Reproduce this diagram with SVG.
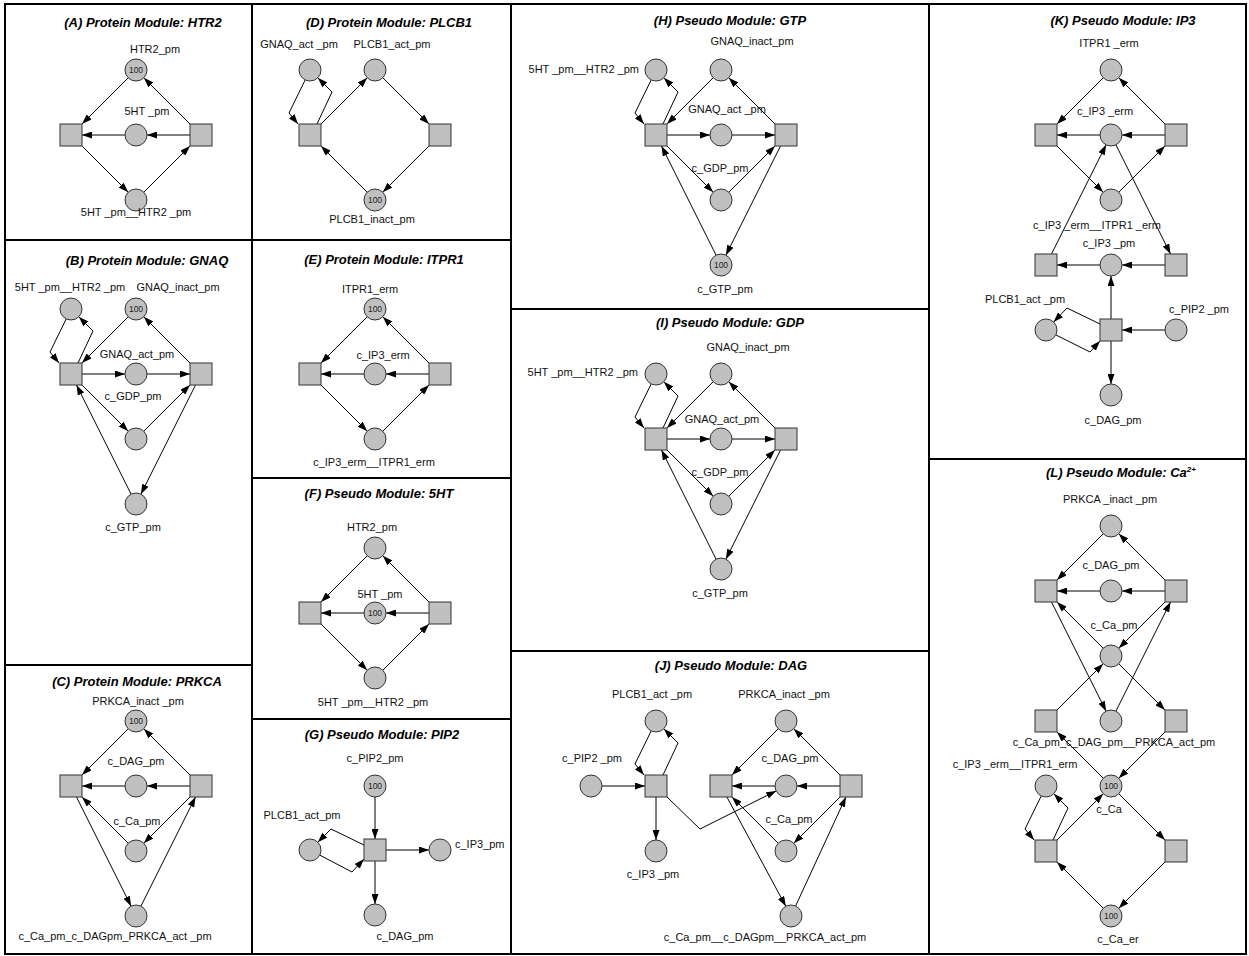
<svg xmlns="http://www.w3.org/2000/svg" width="1249" height="956" viewBox="0 0 1249 956">
<defs>
<marker id="arr" viewBox="0 0 10 7" refX="10" refY="3.5" markerWidth="10" markerHeight="7" markerUnits="userSpaceOnUse" orient="auto"><path d="M0,0 L10,3.5 L0,7 z" fill="#000"/></marker>
<style>
.e{fill:none;stroke:#000;stroke-width:1;marker-end:url(#arr)}
.p{fill:#c0c0c0;stroke:#333;stroke-width:1}
.lb{font-family:"Liberation Sans",Arial,sans-serif;font-size:11px;text-anchor:middle;fill:#111}
.ls{font-family:"Liberation Sans",Arial,sans-serif;font-size:11px;text-anchor:start;fill:#111}
.le{font-family:"Liberation Sans",Arial,sans-serif;font-size:11px;text-anchor:end;fill:#111}
.ttl{font-family:"Liberation Sans",Arial,sans-serif;font-size:13px;font-weight:bold;font-style:italic;text-anchor:middle;fill:#000}
.tok{font-family:"Liberation Sans",Arial,sans-serif;font-size:8.5px;text-anchor:middle;fill:#222}
.fr{fill:none;stroke:#000;stroke-width:2}
</style>
</defs>
<rect width="1249" height="956" fill="#fff"/>
<g id="frames">
<rect class="fr" x="5" y="4" width="1241" height="950"/>
<path class="fr" d="M252,4 V954 M511,4 V954 M929,4 V954 M5,240 H511 M5,665 H252 M252,478 H511 M252,719 H511 M511,309 H929 M511,651 H929 M929,459 H1246"/>
</g>
<g id="titles">
<text class="ttl" x="143" y="27">(A) Protein Module: HTR2</text>
<text class="ttl" x="147" y="265">(B) Protein Module: GNAQ</text>
<text class="ttl" x="137" y="686">(C) Protein Module: PRKCA</text>
<text class="ttl" x="389" y="27">(D) Protein Module: PLCB1</text>
<text class="ttl" x="384" y="264">(E) Protein Module: ITPR1</text>
<text class="ttl" x="379" y="498">(F) Pseudo Module: 5HT</text>
<text class="ttl" x="382" y="739">(G) Pseudo Module: PIP2</text>
<text class="ttl" x="730" y="25">(H) Pseudo Module: GTP</text>
<text class="ttl" x="730" y="327">(I) Pseudo Module: GDP</text>
<text class="ttl" x="731" y="670">(J) Pseudo Module: DAG</text>
<text class="ttl" x="1123" y="25">(K) Pseudo Module: IP3</text>
<text class="ttl" x="1121" y="477">(L) Pseudo Module: Ca<tspan dy="-5" font-size="8">2+</tspan></text>
</g>

<!-- Panel A -->
<g id="panelA" transform="translate(71,135)">
<g id="A-connectors">
<path class="e" d="M57.2,-57.2 L11,-11"/><path class="e" d="M119,-11 L72.8,-57.2"/><path class="e" d="M119,0 L76,0"/><path class="e" d="M54,0 L11,0"/><path class="e" d="M11,11 L57.2,57.2"/><path class="e" d="M72.8,57.2 L119,11"/>
</g>
<g id="A-HTR2_pm"><circle class="p" cx="65" cy="-65" r="11"/><text class="tok" x="65" y="-62">100</text><text class="lb" x="84" y="-82">HTR2_pm</text></g>
<g id="A-5HT_pm"><circle class="p" cx="65" cy="0" r="11"/><text class="lb" x="76" y="-20">5HT _pm</text></g>
<g id="A-complex"><circle class="p" cx="65" cy="65" r="11"/><text class="lb" x="65" y="81">5HT _pm__HTR2 _pm</text></g>
<g id="A-t1"><rect class="p" x="-11" y="-11" width="22" height="22"/></g>
<g id="A-t2"><rect class="p" x="119" y="-11" width="22" height="22"/></g>
</g>

<!-- Panel E -->
<g id="panelE" transform="translate(310,374)">
<g id="E-connectors">
<path class="e" d="M57.2,-57.2 L11,-11"/><path class="e" d="M119,-11 L72.8,-57.2"/><path class="e" d="M119,0 L76,0"/><path class="e" d="M54,0 L11,0"/><path class="e" d="M11,11 L57.2,57.2"/><path class="e" d="M72.8,57.2 L119,11"/>
</g>
<g id="E-ITPR1_erm"><circle class="p" cx="65" cy="-65" r="11"/><text class="tok" x="65" y="-62">100</text><text class="lb" x="60" y="-81">ITPR1_erm</text></g>
<g id="E-c_IP3_erm"><circle class="p" cx="65" cy="0" r="11"/><text class="lb" x="73" y="-15">c_IP3_erm</text></g>
<g id="E-complex"><circle class="p" cx="65" cy="65" r="11"/><text class="lb" x="64" y="92">c_IP3_erm__ITPR1_erm</text></g>
<g id="E-t1"><rect class="p" x="-11" y="-11" width="22" height="22"/></g>
<g id="E-t2"><rect class="p" x="119" y="-11" width="22" height="22"/></g>
</g>

<!-- Panel F -->
<g id="panelF" transform="translate(310,613)">
<g id="F-connectors">
<path class="e" d="M57.2,-57.2 L11,-11"/><path class="e" d="M119,-11 L72.8,-57.2"/><path class="e" d="M119,0 L76,0"/><path class="e" d="M54,0 L11,0"/><path class="e" d="M11,11 L57.2,57.2"/><path class="e" d="M72.8,57.2 L119,11"/>
</g>
<g id="F-HTR2_pm"><circle class="p" cx="65" cy="-65" r="11"/><text class="lb" x="62" y="-82">HTR2_pm</text></g>
<g id="F-5HT_pm"><circle class="p" cx="65" cy="0" r="11"/><text class="tok" x="65" y="3">100</text><text class="lb" x="70" y="-15">5HT _pm</text></g>
<g id="F-complex"><circle class="p" cx="65" cy="65" r="11"/><text class="lb" x="63" y="93">5HT _pm__HTR2 _pm</text></g>
<g id="F-t1"><rect class="p" x="-11" y="-11" width="22" height="22"/></g>
<g id="F-t2"><rect class="p" x="119" y="-11" width="22" height="22"/></g>
</g>

<!-- Panel B -->
<g id="panelB" transform="translate(71,374)">
<g id="B-connectors">
<path class="e" d="M-4.8,-55.1 L-21,-22 L-12,-11"/><path class="e" d="M7,-11 L22,-43 L7.8,-57.2"/>
<path class="e" d="M57.2,-57.2 L11,-11"/><path class="e" d="M119,-11 L72.8,-57.2"/>
<path class="e" d="M11,0 L54,0"/><path class="e" d="M76,0 L119,0"/>
<path class="e" d="M11,11 L57.2,57.2"/><path class="e" d="M72.8,57.2 L119,11"/>
<path class="e" d="M124.5,11 L69.9,120.2"/><path class="e" d="M60.1,120.2 L5.5,11"/>
</g>
<g id="B-5HT_HTR2"><circle class="p" cx="0" cy="-65" r="11"/><text class="lb" x="-1" y="-83">5HT _pm__HTR2 _pm</text></g>
<g id="B-GNAQ_inact"><circle class="p" cx="65" cy="-65" r="11"/><text class="tok" x="65" y="-62">100</text><text class="lb" x="107" y="-83">GNAQ_inact_pm</text></g>
<g id="B-GNAQ_act"><circle class="p" cx="65" cy="0" r="11"/><text class="lb" x="66" y="-16">GNAQ_act_pm</text></g>
<g id="B-GDP"><circle class="p" cx="65" cy="65" r="11"/><text class="lb" x="62" y="26">c_GDP_pm</text></g>
<g id="B-GTP"><circle class="p" cx="65" cy="130" r="11"/><text class="lb" x="62" y="157">c_GTP_pm</text></g>
<g id="B-t1"><rect class="p" x="-11" y="-11" width="22" height="22"/></g>
<g id="B-t2"><rect class="p" x="119" y="-11" width="22" height="22"/></g>
</g>

<!-- Panel H -->
<g id="panelH" transform="translate(656,135)">
<g id="H-connectors">
<path class="e" d="M-4.8,-55.1 L-21,-22 L-12,-11"/><path class="e" d="M7,-11 L22,-43 L7.8,-57.2"/>
<path class="e" d="M57.2,-57.2 L11,-11"/><path class="e" d="M119,-11 L72.8,-57.2"/>
<path class="e" d="M11,0 L54,0"/><path class="e" d="M76,0 L119,0"/>
<path class="e" d="M11,11 L57.2,57.2"/><path class="e" d="M72.8,57.2 L119,11"/>
<path class="e" d="M124.5,11 L69.9,120.2"/><path class="e" d="M60.1,120.2 L5.5,11"/>
</g>
<g id="H-5HT_HTR2"><circle class="p" cx="0" cy="-65" r="11"/><text class="le" x="-17" y="-62">5HT _pm__HTR2 _pm</text></g>
<g id="H-GNAQ_inact"><circle class="p" cx="65" cy="-65" r="11"/><text class="lb" x="96" y="-90">GNAQ_inact_pm</text></g>
<g id="H-GNAQ_act"><circle class="p" cx="65" cy="0" r="11"/><text class="lb" x="71" y="-22">GNAQ_act _pm</text></g>
<g id="H-GDP"><circle class="p" cx="65" cy="65" r="11"/><text class="lb" x="64" y="37">c_GDP_pm</text></g>
<g id="H-GTP"><circle class="p" cx="65" cy="130" r="11"/><text class="tok" x="65" y="133">100</text><text class="lb" x="69" y="158">c_GTP_pm</text></g>
<g id="H-t1"><rect class="p" x="-11" y="-11" width="22" height="22"/></g>
<g id="H-t2"><rect class="p" x="119" y="-11" width="22" height="22"/></g>
</g>

<!-- Panel I -->
<g id="panelI" transform="translate(656,439)">
<g id="I-connectors">
<path class="e" d="M-4.8,-55.1 L-21,-22 L-12,-11"/><path class="e" d="M7,-11 L22,-43 L7.8,-57.2"/>
<path class="e" d="M57.2,-57.2 L11,-11"/><path class="e" d="M119,-11 L72.8,-57.2"/>
<path class="e" d="M11,0 L54,0"/><path class="e" d="M76,0 L119,0"/>
<path class="e" d="M11,11 L57.2,57.2"/><path class="e" d="M72.8,57.2 L119,11"/>
<path class="e" d="M124.5,11 L69.9,120.2"/><path class="e" d="M60.1,120.2 L5.5,11"/>
</g>
<g id="I-5HT_HTR2"><circle class="p" cx="0" cy="-65" r="11"/><text class="le" x="-18" y="-63">5HT _pm__HTR2 _pm</text></g>
<g id="I-GNAQ_inact"><circle class="p" cx="65" cy="-65" r="11"/><text class="lb" x="92" y="-88">GNAQ_inact_pm</text></g>
<g id="I-GNAQ_act"><circle class="p" cx="65" cy="0" r="11"/><text class="lb" x="66" y="-16">GNAQ_act_pm</text></g>
<g id="I-GDP"><circle class="p" cx="65" cy="65" r="11"/><text class="lb" x="64" y="37">c_GDP_pm</text></g>
<g id="I-GTP"><circle class="p" cx="65" cy="130" r="11"/><text class="lb" x="64" y="158">c_GTP_pm</text></g>
<g id="I-t1"><rect class="p" x="-11" y="-11" width="22" height="22"/></g>
<g id="I-t2"><rect class="p" x="119" y="-11" width="22" height="22"/></g>
</g>

<!-- Panel C -->
<g id="panelC" transform="translate(71,786)">
<g id="C-connectors">
<path class="e" d="M57.2,-57.2 L11,-11"/><path class="e" d="M119,-11 L72.8,-57.2"/>
<path class="e" d="M119,0 L76,0"/><path class="e" d="M54,0 L11,0"/>
<path class="e" d="M57.2,57.2 L11,11"/><path class="e" d="M119,11 L72.8,57.2"/>
<path class="e" d="M5.5,11 L60.1,120.2"/><path class="e" d="M69.9,120.2 L124.5,11"/>
</g>
<g id="C-PRKCA_inact"><circle class="p" cx="65" cy="-65" r="11"/><text class="tok" x="65" y="-62">100</text><text class="lb" x="67" y="-81">PRKCA_inact _pm</text></g>
<g id="C-DAG"><circle class="p" cx="65" cy="0" r="11"/><text class="lb" x="65" y="-21">c_DAG_pm</text></g>
<g id="C-Ca"><circle class="p" cx="65" cy="65" r="11"/><text class="lb" x="66" y="39">c_Ca_pm</text></g>
<g id="C-complex"><circle class="p" cx="65" cy="130" r="11"/><text class="lb" x="44" y="154">c_Ca_pm_c_DAGpm_PRKCA_act _pm</text></g>
<g id="C-t1"><rect class="p" x="-11" y="-11" width="22" height="22"/></g>
<g id="C-t2"><rect class="p" x="119" y="-11" width="22" height="22"/></g>
</g>

<!-- Panel D -->
<g id="panelD" transform="translate(310,135)">
<g id="D-connectors">
<path class="e" d="M-4.8,-55.1 L-21,-22 L-12,-11"/><path class="e" d="M7,-11 L22,-43 L7.8,-57.2"/>
<path class="e" d="M11,-11 L57.2,-57.2"/><path class="e" d="M72.8,-57.2 L119,-11"/>
<path class="e" d="M119,11 L72.8,57.2"/><path class="e" d="M57.2,57.2 L11,11"/>
</g>
<g id="D-GNAQ_act"><circle class="p" cx="0" cy="-65" r="11"/><text class="lb" x="-11" y="-87">GNAQ_act _pm</text></g>
<g id="D-PLCB1_act"><circle class="p" cx="65" cy="-65" r="11"/><text class="lb" x="82" y="-87">PLCB1_act_pm</text></g>
<g id="D-PLCB1_inact"><circle class="p" cx="65" cy="65" r="11"/><text class="tok" x="65" y="68">100</text><text class="lb" x="62" y="88">PLCB1_inact_pm</text></g>
<g id="D-t1"><rect class="p" x="-11" y="-11" width="22" height="22"/></g>
<g id="D-t2"><rect class="p" x="119" y="-11" width="22" height="22"/></g>
</g>

<!-- Panel G -->
<g id="panelG" transform="translate(375,850)">
<g id="G-connectors">
<path class="e" d="M0,-53 L0,-11"/><path class="e" d="M11,0 L54,0"/><path class="e" d="M0,11 L0,54"/>
<path class="e" d="M-11,-5 L-44,-21 L-57.2,-7.8"/><path class="e" d="M-55.3,5.1 L-23,22 L-11,9"/>
</g>
<g id="G-PIP2"><circle class="p" cx="0" cy="-64" r="11"/><text class="tok" x="0" y="-61">100</text><text class="lb" x="0" y="-88">c_PIP2_pm</text></g>
<g id="G-PLCB1"><circle class="p" cx="-65" cy="0" r="11"/><text class="lb" x="-73" y="-31">PLCB1_act_pm</text></g>
<g id="G-IP3"><circle class="p" cx="65" cy="0" r="11"/><text class="ls" x="80" y="-2">c_IP3_pm</text></g>
<g id="G-DAG"><circle class="p" cx="0" cy="65" r="11"/><text class="lb" x="30" y="90">c_DAG_pm</text></g>
<g id="G-t1"><rect class="p" x="-11" y="-11" width="22" height="22"/></g>
</g>

<!-- Panel J -->
<g id="panelJ" transform="translate(656,786)">
<g id="J-connectors">
<path class="e" d="M-4.8,-55.1 L-21,-22 L-12,-11"/><path class="e" d="M7,-11 L22,-43 L7.8,-57.2"/>
<path class="e" d="M-54,0 L-11,0"/><path class="e" d="M0,11 L0,54"/>
<path class="e" d="M11,11 L44,43 L120.2,4.9"/>
<path class="e" d="M122.2,-57.2 L76,-11"/><path class="e" d="M184,-11 L137.8,-57.2"/>
<path class="e" d="M184,0 L141,0"/><path class="e" d="M119,0 L76,0"/>
<path class="e" d="M122.2,57.2 L76,11"/><path class="e" d="M184,11 L137.8,57.2"/>
<path class="e" d="M70.9,11 L129.8,120.3"/><path class="e" d="M139.6,120 L189.9,11"/>
</g>
<g id="J-PLCB1"><circle class="p" cx="0" cy="-65" r="11"/><text class="lb" x="-4" y="-88">PLCB1_act _pm</text></g>
<g id="J-PIP2"><circle class="p" cx="-65" cy="0" r="11"/><text class="lb" x="-64" y="-24">c_PIP2 _pm</text></g>
<g id="J-IP3"><circle class="p" cx="0" cy="65" r="11"/><text class="lb" x="-3" y="92">c_IP3 _pm</text></g>
<g id="J-PRKCA"><circle class="p" cx="130" cy="-65" r="11"/><text class="lb" x="128" y="-88">PRKCA_inact _pm</text></g>
<g id="J-DAG"><circle class="p" cx="130" cy="0" r="11"/><text class="lb" x="134" y="-24">c_DAG_pm</text></g>
<g id="J-Ca"><circle class="p" cx="130" cy="65" r="11"/><text class="lb" x="133" y="37">c_Ca_pm</text></g>
<g id="J-complex"><circle class="p" cx="135" cy="130" r="11"/><text class="lb" x="109" y="155">c_Ca_pm__c_DAGpm__PRKCA_act_pm</text></g>
<g id="J-t1"><rect class="p" x="-11" y="-11" width="22" height="22"/></g>
<g id="J-t2"><rect class="p" x="54" y="-11" width="22" height="22"/></g>
<g id="J-t3"><rect class="p" x="184" y="-11" width="22" height="22"/></g>
</g>

<!-- Panel K -->
<g id="panelK" transform="translate(1046,135)">
<g id="K-connectors">
<path class="e" d="M57.2,-57.2 L11,-11"/><path class="e" d="M119,-11 L72.8,-57.2"/>
<path class="e" d="M119,0 L76,0"/><path class="e" d="M54,0 L11,0"/>
<path class="e" d="M11,11 L57.2,57.2"/><path class="e" d="M72.8,57.2 L119,11"/>
<path class="e" d="M69.9,9.8 L124.5,119"/><path class="e" d="M5.5,119 L60.1,9.8"/>
<path class="e" d="M119,130 L76,130"/><path class="e" d="M54,130 L11,130"/>
<path class="e" d="M65,184 L65,141"/><path class="e" d="M119,195 L76,195"/><path class="e" d="M65,206 L65,249"/>
<path class="e" d="M54,189 L21,173 L7.6,187.1"/><path class="e" d="M9.8,199.9 L44,217 L54,206"/>
</g>
<g id="K-ITPR1"><circle class="p" cx="65" cy="-65" r="11"/><text class="lb" x="63" y="-88">ITPR1 _erm</text></g>
<g id="K-IP3erm"><circle class="p" cx="65" cy="0" r="11"/><text class="lb" x="59" y="-20">c_IP3 _erm</text></g>
<g id="K-complex"><circle class="p" cx="65" cy="65" r="11"/><text class="lb" x="51" y="94">c_IP3 _erm__ITPR1 _erm</text></g>
<g id="K-IP3pm"><circle class="p" cx="65" cy="130" r="11"/><text class="lb" x="63" y="112">c_IP3 _pm</text></g>
<g id="K-PLCB1"><circle class="p" cx="0" cy="195" r="11"/><text class="lb" x="-21" y="168">PLCB1_act _pm</text></g>
<g id="K-PIP2"><circle class="p" cx="130" cy="195" r="11"/><text class="lb" x="153" y="178">c_PIP2 _pm</text></g>
<g id="K-DAG"><circle class="p" cx="65" cy="260" r="11"/><text class="lb" x="67" y="289">c_DAG_pm</text></g>
<g id="K-t1"><rect class="p" x="-11" y="-11" width="22" height="22"/></g>
<g id="K-t2"><rect class="p" x="119" y="-11" width="22" height="22"/></g>
<g id="K-t3"><rect class="p" x="-11" y="119" width="22" height="22"/></g>
<g id="K-t4"><rect class="p" x="119" y="119" width="22" height="22"/></g>
<g id="K-t5"><rect class="p" x="54" y="184" width="22" height="22"/></g>
</g>

<!-- Panel L -->
<g id="panelL" transform="translate(1046,591)">
<g id="L-connectors">
<path class="e" d="M57.2,-57.2 L11,-11"/><path class="e" d="M119,-11 L72.8,-57.2"/>
<path class="e" d="M119,0 L76,0"/><path class="e" d="M54,0 L11,0"/>
<path class="e" d="M57.2,57.2 L11,11"/><path class="e" d="M119,11 L72.8,57.2"/>
<path class="e" d="M5.5,11 L60.1,120.2"/><path class="e" d="M69.9,120.2 L124.5,11"/>
<path class="e" d="M72.8,72.8 L119,119"/><path class="e" d="M11,119 L57.2,72.8"/>
<path class="e" d="M57.2,187.2 L11,141"/><path class="e" d="M119,141 L72.8,187.2"/>
<path class="e" d="M72.8,202.8 L119,249"/><path class="e" d="M119,271 L72.8,317.2"/>
<path class="e" d="M57.2,317.2 L11,271"/><path class="e" d="M11,249 L57.2,202.8"/>
<path class="e" d="M-4.8,205.1 L-21,238 L-12,249"/><path class="e" d="M7,249 L22,217 L7.8,202.8"/>
</g>
<g id="L-PRKCA"><circle class="p" cx="65" cy="-65" r="11"/><text class="lb" x="64" y="-88">PRKCA _inact _pm</text></g>
<g id="L-DAG"><circle class="p" cx="65" cy="0" r="11"/><text class="lb" x="65" y="-22">c_DAG_pm</text></g>
<g id="L-Capm"><circle class="p" cx="65" cy="65" r="11"/><text class="lb" x="68" y="38">c_Ca_pm</text></g>
<g id="L-complex"><circle class="p" cx="65" cy="130" r="11"/><text class="lb" x="68" y="155">c_Ca_pm_c_DAG_pm__PRKCA_act_pm</text></g>
<g id="L-IP3erm"><circle class="p" cx="0" cy="195" r="11"/><text class="lb" x="-31" y="177">c_IP3 _erm__ITPR1_erm</text></g>
<g id="L-cCa"><circle class="p" cx="65" cy="195" r="11"/><text class="tok" x="65" y="198">100</text><text class="lb" x="63" y="222">c_Ca</text></g>
<g id="L-Caer"><circle class="p" cx="65" cy="325" r="11"/><text class="tok" x="65" y="328">100</text><text class="lb" x="72" y="352">c_Ca_er</text></g>
<g id="L-t1"><rect class="p" x="-11" y="-11" width="22" height="22"/></g>
<g id="L-t2"><rect class="p" x="119" y="-11" width="22" height="22"/></g>
<g id="L-t3"><rect class="p" x="-11" y="119" width="22" height="22"/></g>
<g id="L-t4"><rect class="p" x="119" y="119" width="22" height="22"/></g>
<g id="L-t5"><rect class="p" x="-11" y="249" width="22" height="22"/></g>
<g id="L-t6"><rect class="p" x="119" y="249" width="22" height="22"/></g>
</g>
</svg>
